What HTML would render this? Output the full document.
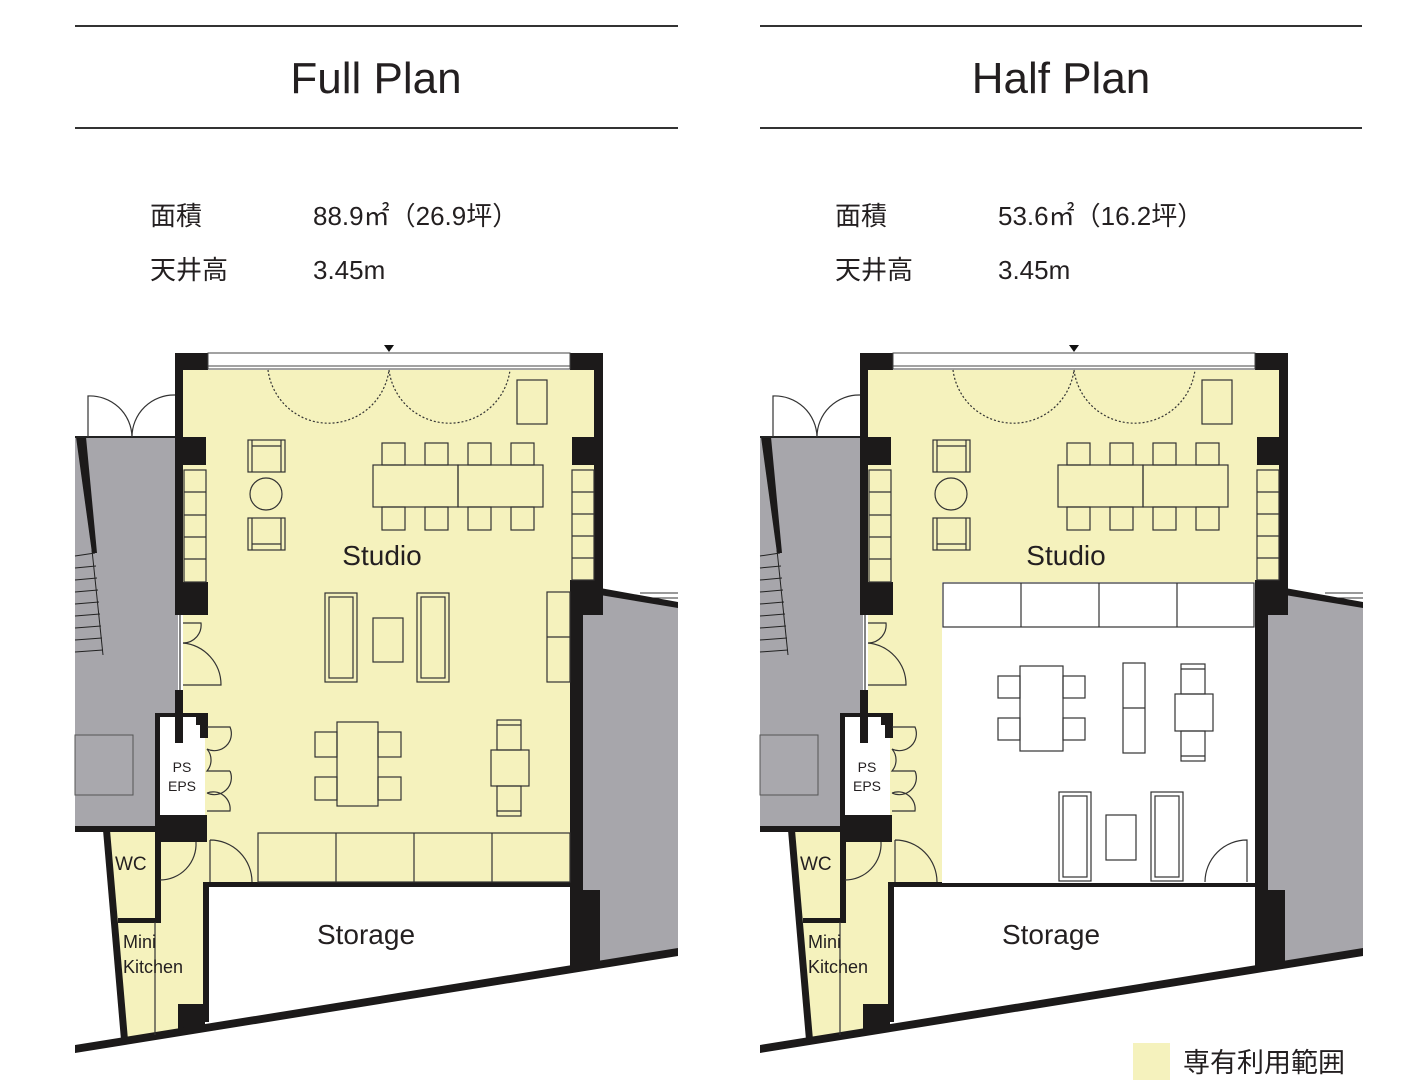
<!DOCTYPE html>
<html><head><meta charset="utf-8"><style>
html,body{margin:0;padding:0;background:#fff;width:1416px;height:1082px;overflow:hidden}
svg{display:block}
text{font-family:"Liberation Sans","Noto Sans CJK JP",sans-serif;fill:#231f20}
</style></head><body>
<svg width="1416" height="1082" viewBox="0 0 1416 1082" xmlns="http://www.w3.org/2000/svg">
<defs>
<g id="base">
  <polygon points="75,437 178,437 178,715 155,715 155,830 75,830" fill="#a7a6ab"/>
  <rect x="75" y="735" width="58" height="60" fill="#a9a8ad" stroke="#555" stroke-width="1"/>
  <polygon points="583,588 678,605 678,952 583,966" fill="#a7a6ab"/>
  <line x1="640" y1="593" x2="678" y2="593" stroke="#333" stroke-width="1"/>
  <line x1="640" y1="598" x2="678" y2="598" stroke="#333" stroke-width="1"/>
  <g stroke="#222" stroke-width="1">
    <line x1="75" y1="556" x2="95" y2="553"/><line x1="75" y1="568" x2="96" y2="566"/>
    <line x1="75" y1="580" x2="97" y2="578"/><line x1="75" y1="592" x2="98" y2="590"/>
    <line x1="75" y1="604" x2="99" y2="602"/><line x1="75" y1="616" x2="100" y2="614"/>
    <line x1="75" y1="628" x2="101" y2="626"/><line x1="75" y1="640" x2="102" y2="638"/>
    <line x1="75" y1="652" x2="103" y2="650"/>
    <line x1="92" y1="550" x2="103" y2="655"/>
  </g>
  <polygon points="76,437 86,437 97,553 92,553" fill="#1c1a1a"/>
  <line x1="75" y1="437" x2="178" y2="437" stroke="#222" stroke-width="2"/>
  <rect x="183" y="370" width="411" height="210" fill="#f5f2bd"/>
  <rect x="183" y="370" width="390" height="515" fill="#f5f2bd"/>
  <polygon points="108,828 205,828 205,1030 124,1040" fill="#f5f2bd"/>
  <polygon points="205,885 572,885 572,966 205,1030" fill="#fff"/>
  <rect x="157" y="717" width="48" height="108" fill="#fff"/>
  <g fill="#1c1a1a">
    <polygon points="155,713 205,713 205,725 196,725 196,717 160,717 160,840 155,840"/>
    <rect x="155" y="815" width="52" height="27"/>
    <rect x="175" y="713" width="8" height="30"/>
    <rect x="200" y="713" width="8" height="25"/>
    <rect x="75" y="826" width="85" height="6"/>
  </g>
  <g fill="#1c1a1a">
    <rect x="175" y="353" width="33" height="17"/>
    <rect x="175" y="353" width="8" height="262"/>
    <rect x="183" y="437" width="23" height="28"/>
    <rect x="183" y="582" width="25" height="33"/>
    <rect x="175" y="690" width="8" height="25"/>
    <rect x="570" y="353" width="33" height="17"/>
    <rect x="594" y="353" width="9" height="235"/>
    <rect x="572" y="437" width="22" height="28"/>
    <rect x="570" y="580" width="33" height="35"/>
    <rect x="570" y="580" width="13" height="388"/>
    <rect x="570" y="890" width="30" height="75"/>
    <polygon points="600,588 678,602 678,608 600,595"/>
    <polygon points="103,830 110,830 128,1040 121,1040"/>
    <rect x="155" y="840" width="6" height="82"/>
    <rect x="118" y="918" width="43" height="5"/>
    <rect x="203" y="882" width="6" height="140"/>
    <rect x="178" y="1004" width="27" height="25"/>
    <rect x="203" y="882" width="367" height="5"/>
    <polygon points="75,1045 678,948 678,956 75,1053"/>
  </g>
  <rect x="208" y="353" width="362" height="16" fill="#fff" stroke="#444" stroke-width="1"/>
  <line x1="208" y1="366" x2="570" y2="366" stroke="#444" stroke-width="1"/>
  <polygon points="384,345 394,345 389,352" fill="#111"/>
  <g fill="none" stroke="#333" stroke-width="1.2">
    <path d="M268,370 A61,61 0 0 0 389,370" stroke-dasharray="2,2"/>
    <path d="M389,370 A61,61 0 0 0 510,370" stroke-dasharray="2,2"/>
    <rect x="517" y="380" width="30" height="44"/>
    <rect x="248" y="440" width="37" height="32"/><line x1="252" y1="440" x2="252" y2="472"/><line x1="281" y1="440" x2="281" y2="472"/><line x1="252" y1="446" x2="281" y2="446"/>
    <circle cx="266" cy="494" r="16"/>
    <rect x="248" y="518" width="37" height="32"/><line x1="252" y1="518" x2="252" y2="550"/><line x1="281" y1="518" x2="281" y2="550"/><line x1="252" y1="544" x2="281" y2="544"/>
    <rect x="373" y="465" width="85" height="42"/><rect x="458" y="465" width="85" height="42"/>
    <rect x="382" y="443" width="23" height="22"/><rect x="425" y="443" width="23" height="22"/><rect x="468" y="443" width="23" height="22"/><rect x="511" y="443" width="23" height="22"/>
    <rect x="382" y="507" width="23" height="23"/><rect x="425" y="507" width="23" height="23"/><rect x="468" y="507" width="23" height="23"/><rect x="511" y="507" width="23" height="23"/>
    <rect x="184" y="470" width="22" height="112"/>
    <line x1="184" y1="492" x2="206" y2="492"/><line x1="184" y1="515" x2="206" y2="515"/><line x1="184" y1="537" x2="206" y2="537"/><line x1="184" y1="559" x2="206" y2="559"/>
    <rect x="572" y="470" width="22" height="110"/>
    <line x1="572" y1="492" x2="594" y2="492"/><line x1="572" y1="514" x2="594" y2="514"/><line x1="572" y1="536" x2="594" y2="536"/><line x1="572" y1="558" x2="594" y2="558"/>
    <line x1="180" y1="615" x2="180" y2="690"/>
    <path d="M183,623 L201,623 A18,18 0 0 1 183,643"/>
    <path d="M183,643 A42,42 0 0 1 221,685 L183,685"/>
    <path d="M88,437 L88,396 A42,42 0 0 1 132,437"/>
    <path d="M132,437 A42,42 0 0 1 175,395"/>
    <path d="M207,727 L230,727 A17,17 0 0 1 207,749"/>
    <path d="M207,749 A17,17 0 0 1 207,771 L230,771"/>
    <path d="M230,771 A17,17 0 0 1 207,793"/>
    <path d="M207,793 A17,17 0 0 1 230,811 L207,811"/>
    <path d="M196,842 A36,36 0 0 1 160,880"/>
    <line x1="155" y1="922" x2="155" y2="1035"/>
    <path d="M210,840 A42,42 0 0 1 252,882 M210,840 L210,882"/>
  </g>
</g>
</defs>

<line x1="75" y1="26" x2="678" y2="26" stroke="#333" stroke-width="2"/>
<line x1="75" y1="128" x2="678" y2="128" stroke="#333" stroke-width="2"/>
<line x1="760" y1="26" x2="1362" y2="26" stroke="#333" stroke-width="2"/>
<line x1="760" y1="128" x2="1362" y2="128" stroke="#333" stroke-width="2"/>
<text x="376" y="93" font-size="44" text-anchor="middle">Full Plan</text>
<text x="1061" y="93" font-size="44" text-anchor="middle">Half Plan</text>

<g font-size="26">
<text x="150" y="225">面積</text><text x="313" y="225">88.9㎡（26.9坪）</text>
<text x="150" y="279">天井高</text><text x="313" y="279">3.45m</text>
<text x="835" y="225">面積</text><text x="998" y="225">53.6㎡（16.2坪）</text>
<text x="835" y="279">天井高</text><text x="998" y="279">3.45m</text>
</g>

<use href="#base"/>
<g fill="none" stroke="#333" stroke-width="1.2">
  <rect x="325" y="593" width="32" height="89"/><rect x="329" y="597" width="24" height="81"/>
  <rect x="417" y="593" width="32" height="89"/><rect x="421" y="597" width="24" height="81"/>
  <rect x="373" y="618" width="30" height="44"/>
  <rect x="547" y="592" width="23" height="90"/><line x1="547" y1="637" x2="570" y2="637"/>
  <rect x="337" y="722" width="41" height="84"/>
  <rect x="315" y="732" width="22" height="25"/><rect x="315" y="777" width="22" height="23"/>
  <rect x="378" y="732" width="23" height="25"/><rect x="378" y="777" width="23" height="23"/>
  <rect x="491" y="750" width="38" height="36"/>
  <rect x="497" y="720" width="24" height="30"/><line x1="497" y1="725" x2="521" y2="725"/>
  <rect x="497" y="786" width="24" height="30"/><line x1="497" y1="811" x2="521" y2="811"/>
  <rect x="258" y="833" width="312" height="49"/>
  <line x1="336" y1="833" x2="336" y2="882"/><line x1="414" y1="833" x2="414" y2="882"/><line x1="492" y1="833" x2="492" y2="882"/>
</g>
<text x="382" y="565" font-size="28" text-anchor="middle">Studio</text>
<text x="366" y="944" font-size="28" text-anchor="middle">Storage</text>
<text x="115" y="870" font-size="19">WC</text>
<text x="123" y="948" font-size="18">Mini</text>
<text x="123" y="973" font-size="18">Kitchen</text>
<text x="182" y="772" font-size="14" text-anchor="middle">PS</text>
<text x="182" y="791" font-size="14" text-anchor="middle">EPS</text>

<g transform="translate(685,0)">
  <use href="#base"/>
  <rect x="257" y="582" width="313" height="301" fill="#fff"/>
  <g fill="none" stroke="#333" stroke-width="1.2">
    <rect x="258" y="583" width="311" height="44"/>
    <line x1="336" y1="583" x2="336" y2="627"/><line x1="414" y1="583" x2="414" y2="627"/><line x1="492" y1="583" x2="492" y2="627"/>
    <rect x="335" y="666" width="43" height="85"/>
    <rect x="313" y="676" width="22" height="22"/><rect x="313" y="718" width="22" height="22"/>
    <rect x="378" y="676" width="22" height="22"/><rect x="378" y="718" width="22" height="22"/>
    <rect x="438" y="663" width="22" height="90"/><line x1="438" y1="708" x2="460" y2="708"/>
    <rect x="490" y="694" width="38" height="37"/>
    <rect x="496" y="664" width="24" height="30"/><line x1="496" y1="669" x2="520" y2="669"/>
    <rect x="496" y="731" width="24" height="30"/><line x1="496" y1="756" x2="520" y2="756"/>
    <rect x="374" y="792" width="32" height="89"/><rect x="378" y="796" width="24" height="81"/>
    <rect x="466" y="792" width="32" height="89"/><rect x="470" y="796" width="24" height="81"/>
    <rect x="421" y="815" width="30" height="45"/>
    <path d="M520,882 A42,42 0 0 1 562,840 L562,882"/>
  </g>
</g>
<text x="1066" y="565" font-size="28" text-anchor="middle">Studio</text>
<text x="1051" y="944" font-size="28" text-anchor="middle">Storage</text>
<text x="800" y="870" font-size="19">WC</text>
<text x="808" y="948" font-size="18">Mini</text>
<text x="808" y="973" font-size="18">Kitchen</text>
<text x="867" y="772" font-size="14" text-anchor="middle">PS</text>
<text x="867" y="791" font-size="14" text-anchor="middle">EPS</text>

<rect x="1133" y="1043" width="37" height="37" fill="#f5f2bd"/>
<text x="1183" y="1072" font-size="27">専有利用範囲</text>
</svg>
</body></html>
